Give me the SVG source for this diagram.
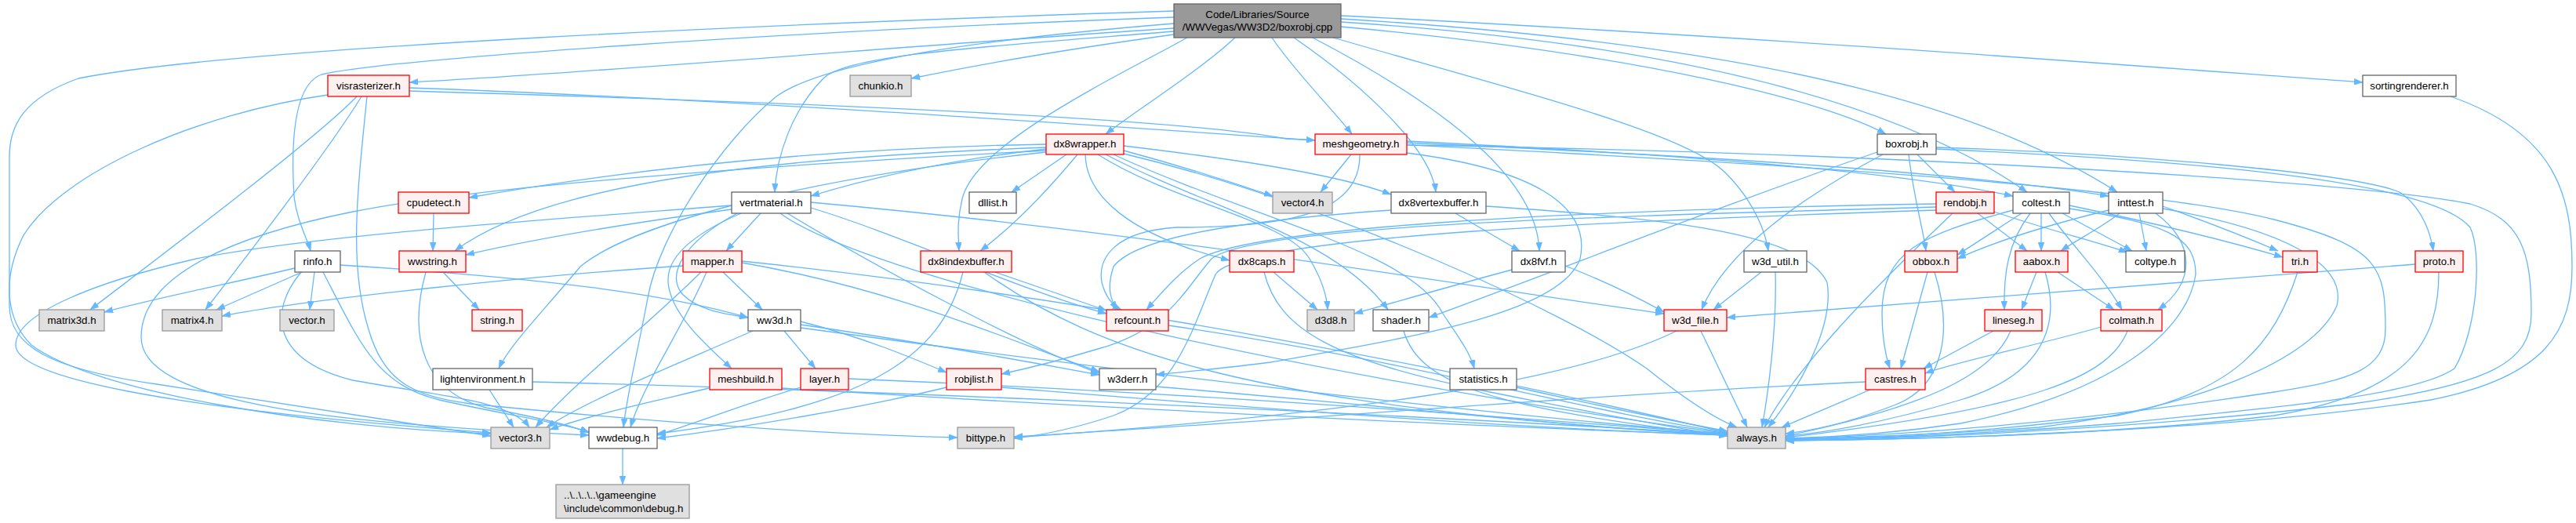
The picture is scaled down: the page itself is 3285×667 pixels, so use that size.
<svg xmlns="http://www.w3.org/2000/svg" width="3285" height="667" viewBox="0 0 3285 667">
<style>
rect{stroke-width:1.3}
.red rect{fill:#fff0f0;stroke:#ff0000}
.wht rect{fill:#ffffff;stroke:#666666}
.gry rect{fill:#e0e0e0;stroke:#999999}
.root rect{fill:#999999;stroke:#666666}
text{font-family:"Liberation Sans",Arial,sans-serif;font-size:13.3px;fill:#000;text-anchor:middle}
.lt{text-anchor:start}
#edges path{fill:none;stroke:#63b8ff;stroke-width:1.3;marker-end:url(#a)}
</style>
<defs>
<marker id="a" viewBox="0 0 11 8" refX="11" refY="4" markerWidth="11" markerHeight="8" markerUnits="userSpaceOnUse" orient="auto"><path d="M0,0 L11,4 L0,8 z" fill="#63b8ff" stroke="#63b8ff" stroke-width="0.5"/></marker>
</defs>
<rect width="3285" height="667" fill="#ffffff"/>
<g id="edges">
<path d="M1497,36 C1200,55 800,90 522,105"/>
<path d="M1497,44 C1380,60 1250,82 1162,100"/>
<path d="M1575,48 C1530,90 1450,140 1410,171"/>
<path d="M1622,48 C1650,90 1700,140 1724,171"/>
<path d="M1650,48 C1740,110 1825,190 1831,245"/>
<path d="M1674,48 C1850,140 1960,230 1963,320"/>
<path d="M1700,48 C1950,120 2150,170 2200,220 C2240,260 2252,300 2255,320"/>
<path d="M1710,34 C2100,70 2330,130 2405,171"/>
<path d="M1710,28 C2200,60 2450,150 2585,245"/>
<path d="M1710,24 C2300,60 2550,150 2700,245"/>
<path d="M1710,20 C2300,50 2800,90 3013,105"/>
<path d="M1514,48 C1420,100 1250,180 1228,250 C1220,280 1222,300 1223,320"/>
<path d="M1497,40 C1250,60 1080,70 1050,100 C1010,140 990,200 988,245"/>
<path d="M1497,22 C1000,40 500,75 410,95 C370,110 372,200 375,250 C378,280 392,305 396,320"/>
<path d="M1497,30 C1250,50 1050,80 990,123 C920,180 840,300 826,380 C815,440 800,500 795,545"/>
<path d="M1497,14 C1000,30 300,60 100,100 C30,125 12,160 12,200 L12,390 C12,440 60,470 200,490 C400,520 560,545 626,556"/>
<path d="M522,112 C900,125 1400,160 1677,179"/>
<path d="M522,116 C1000,130 1500,150 1640,177 C2100,200 2700,230 2900,280 C3035,315 3042,340 3042,420 C3042,470 3000,485 2900,500 C2600,545 2400,556 2277,560"/>
<path d="M455,123 C400,180 200,330 115,395"/>
<path d="M461,123 C420,190 320,320 262,395"/>
<path d="M468,123 C455,250 445,340 470,420 C490,490 530,505 600,515 C900,545 1100,555 1221,558"/>
<path d="M418,121 C250,145 80,220 30,300 C0,360 10,410 40,440 C120,500 400,545 626,553"/>
<path d="M1334,184 C1000,190 750,225 598,252"/>
<path d="M1334,188 C1000,200 700,230 580,320"/>
<path d="M1334,194 C1000,230 800,290 740,340 C690,400 650,440 636,470"/>
<path d="M1334,190 C1200,205 1100,230 1034,250"/>
<path d="M1360,197 L1290,245"/>
<path d="M1374,197 C1330,250 1290,290 1250,320"/>
<path d="M1433,192 C1500,210 1570,232 1623,250"/>
<path d="M1433,186 C1550,200 1700,220 1774,248"/>
<path d="M1384,197 C1385,250 1440,300 1568,332"/>
<path d="M1400,197 C1500,260 1640,280 1670,330 C1685,355 1692,375 1693,395"/>
<path d="M1410,197 C1550,270 1700,300 1770,395"/>
<path d="M1420,197 C1600,280 1800,320 1840,400 C1860,430 1875,450 1880,470"/>
<path d="M1433,196 C1700,260 2000,400 2100,470 C2150,510 2190,535 2215,545"/>
<path d="M1334,192 C900,215 600,240 450,270 C300,300 180,350 180,430 C180,510 400,540 751,555"/>
<path d="M1723,197 L1684,245"/>
<path d="M1794,195 C1950,215 2030,260 2015,330 C1990,400 1800,430 1620,462 C1560,470 1510,474 1474,478"/>
<path d="M1734,197 C1735,270 1650,290 1500,290 C1420,295 1400,330 1405,360 C1410,380 1420,390 1430,395"/>
<path d="M1794,180 C2100,195 2400,215 2567,250"/>
<path d="M1794,182 C2200,200 2500,220 2689,250"/>
<path d="M1794,185 C2400,195 3000,230 3150,260 C3215,280 3228,320 3228,400 C3228,460 3180,490 3000,515 C2700,550 2400,560 2277,562"/>
<path d="M2445,197 L2493,245"/>
<path d="M2434,197 C2440,250 2452,290 2456,320"/>
<path d="M2394,194 C2200,260 2000,340 1822,405"/>
<path d="M2401,197 C2300,250 2200,320 2170,395"/>
<path d="M2469,188 C2700,195 3000,220 3060,245 C3090,265 3100,300 3103,320"/>
<path d="M2469,190 C2800,205 3100,230 3150,290 C3165,320 3160,420 3130,470 C3080,505 2900,520 2700,540 C2500,556 2350,560 2277,560"/>
<path d="M2522,272 L2585,320"/>
<path d="M2543,270 C2600,290 2680,310 2713,322"/>
<path d="M2469,260 C2000,268 1600,290 1530,330 C1500,350 1480,375 1462,395"/>
<path d="M2469,264 C2100,275 1600,285 1545,330 C1510,370 1490,420 1400,445 C1350,460 1310,470 1277,477"/>
<path d="M2469,268 C2100,280 1580,300 1550,350 C1520,420 1500,500 1420,530 C1360,550 1320,556 1293,559"/>
<path d="M2490,272 C2440,320 2300,450 2250,545"/>
<path d="M2578,272 C2550,290 2520,310 2496,325"/>
<path d="M2603,272 L2603,320"/>
<path d="M2630,272 L2719,320"/>
<path d="M2639,262 C2750,285 2850,310 2911,328"/>
<path d="M2589,272 C2560,310 2555,350 2556,395"/>
<path d="M2613,272 C2640,310 2680,350 2706,395"/>
<path d="M2567,268 C2450,300 2400,320 2400,400 C2400,430 2405,455 2410,470"/>
<path d="M2639,266 C2760,285 2800,300 2800,350 C2790,420 2700,500 2500,540 C2400,555 2320,558 2277,559"/>
<path d="M2703,272 C2680,290 2650,305 2628,320"/>
<path d="M2689,268 C2620,285 2550,305 2496,330"/>
<path d="M2728,272 L2737,320"/>
<path d="M2758,263 C2820,285 2870,305 2905,320"/>
<path d="M2749,272 C2800,310 2800,360 2752,395"/>
<path d="M2758,266 C2950,300 2990,350 2980,390 C2950,460 2800,520 2600,545 C2450,556 2330,558 2277,561"/>
<path d="M3125,123 C3260,170 3280,250 3280,340 C3280,420 3250,480 3100,510 C2800,555 2400,561 2277,562"/>
<path d="M2930,347 C2900,440 2850,500 2700,530 C2500,555 2350,560 2277,561"/>
<path d="M3080,337 C2700,365 2400,390 2202,405"/>
<path d="M3110,347 C3110,430 3080,500 2900,530 C2700,555 2400,561 2277,562"/>
<path d="M2385,497 L2272,545"/>
<path d="M2379,487 C2000,505 1600,540 1293,557"/>
<path d="M2458,347 L2424,470"/>
<path d="M2467,347 C2490,420 2480,490 2420,515 C2370,535 2320,548 2277,553"/>
<path d="M2597,347 L2578,395"/>
<path d="M2624,347 L2696,395"/>
<path d="M2608,347 C2630,420 2600,480 2500,510 C2400,540 2320,553 2277,556"/>
<path d="M2542,422 L2453,470"/>
<path d="M2564,422 C2540,480 2450,520 2277,556"/>
<path d="M2679,417 C2600,440 2500,460 2455,476"/>
<path d="M2713,422 C2690,480 2600,520 2277,558"/>
<path d="M2169,422 L2228,545"/>
<path d="M2138,422 C2000,490 1700,530 1293,558"/>
<path d="M2246,347 L2185,395"/>
<path d="M2264,347 C2266,420 2255,500 2247,545"/>
<path d="M1928,344 C1850,365 1780,385 1727,400"/>
<path d="M1996,339 C2050,360 2090,380 2122,398"/>
<path d="M1856,272 L1938,320"/>
<path d="M1774,268 C1600,280 1450,300 1420,340 C1410,370 1418,385 1425,395"/>
<path d="M1895,263 C2150,280 2300,300 2330,360 C2340,420 2290,500 2255,545"/>
<path d="M1269,347 C1320,365 1370,382 1411,396"/>
<path d="M1228,347 C1200,460 1100,520 838,553"/>
<path d="M1255,347 C1400,450 1600,520 2203,555"/>
<path d="M1624,347 L1680,395"/>
<path d="M1612,347 C1630,420 1700,460 1900,500 C2050,530 2150,548 2203,556"/>
<path d="M933,267 C800,285 680,305 594,325"/>
<path d="M970,272 L926,320"/>
<path d="M1034,265 C1150,300 1300,370 1411,400"/>
<path d="M1004,272 C1100,330 1300,440 1402,476"/>
<path d="M995,272 C1100,350 1600,470 2203,553"/>
<path d="M933,262 C700,280 400,300 250,330 C120,360 20,400 20,440 C20,480 200,520 626,552"/>
<path d="M945,272 C880,300 850,330 852,360 C855,400 900,440 933,470"/>
<path d="M940,272 C870,310 850,350 870,375 C890,395 920,400 954,405"/>
<path d="M1034,258 C1500,300 1900,370 2122,400"/>
<path d="M922,347 L972,395"/>
<path d="M894,347 C820,420 730,490 683,545"/>
<path d="M901,347 C870,420 820,490 804,545"/>
<path d="M871,339 C700,350 400,380 283,403"/>
<path d="M946,335 C1150,370 1300,440 1402,474"/>
<path d="M946,333 C1400,380 1900,480 2203,552"/>
<path d="M553,272 L552,320"/>
<path d="M565,347 L611,395"/>
<path d="M543,347 C520,430 540,500 620,520 C700,535 735,545 751,552"/>
<path d="M376,342 C300,360 200,380 133,398"/>
<path d="M385,347 L276,395"/>
<path d="M401,347 L395,395"/>
<path d="M384,347 C340,400 350,460 450,485 C560,505 650,510 675,545"/>
<path d="M412,347 C460,440 480,490 560,510 C650,530 720,540 751,551"/>
<path d="M434,338 C700,355 850,375 954,405"/>
<path d="M624,497 L655,545"/>
<path d="M679,487 C1200,500 1800,530 2203,554"/>
<path d="M904,495 C820,515 750,530 701,548"/>
<path d="M997,495 C1400,520 1900,545 2203,555"/>
<path d="M1021,494 C950,515 900,535 838,555"/>
<path d="M1082,483 C1500,500 1900,530 2203,554"/>
<path d="M1000,422 L1040,470"/>
<path d="M960,422 C850,470 750,510 697,545"/>
<path d="M1021,414 C1200,440 1330,465 1402,478"/>
<path d="M1021,410 C1100,430 1160,455 1207,475"/>
<path d="M1021,418 C1400,470 1900,530 2203,553"/>
<path d="M1207,494 C1100,520 950,545 838,559"/>
<path d="M1277,494 C1600,520 1900,545 2203,555"/>
<path d="M1474,493 C1800,520 2000,545 2203,555"/>
<path d="M1490,415 C1800,460 2000,520 2203,552"/>
<path d="M1934,494 C2050,520 2150,540 2203,550"/>
<path d="M1790,422 C1810,490 1900,520 2203,556"/>
<path d="M794,572 L794,618"/>
</g>
<g id="n-root" class="root"><rect x="1497" y="5" width="213" height="43"/><text x="1603.5" y="23">Code/Libraries/Source</text><text x="1603.5" y="39">/WWVegas/WW3D2/boxrobj.cpp</text></g>
<g id="n-visrasterizer" class="red"><rect x="418" y="96" width="104" height="27"/><text x="470" y="114">visrasterizer.h</text></g>
<g id="n-chunkio" class="gry"><rect x="1084" y="96" width="78" height="27"/><text x="1123" y="114">chunkio.h</text></g>
<g id="n-sortingrenderer" class="wht"><rect x="3013" y="96" width="119" height="27"/><text x="3072.5" y="114">sortingrenderer.h</text></g>
<g id="n-dx8wrapper" class="red"><rect x="1334" y="171" width="99" height="26"/><text x="1383.5" y="188">dx8wrapper.h</text></g>
<g id="n-meshgeometry" class="red"><rect x="1677" y="171" width="117" height="26"/><text x="1735.5" y="188">meshgeometry.h</text></g>
<g id="n-boxrobj" class="wht"><rect x="2394" y="171" width="75" height="26"/><text x="2431.5" y="188">boxrobj.h</text></g>
<g id="n-cpudetect" class="red"><rect x="508" y="245" width="90" height="27"/><text x="553" y="263">cpudetect.h</text></g>
<g id="n-vertmaterial" class="wht"><rect x="933" y="245" width="101" height="27"/><text x="983.5" y="263">vertmaterial.h</text></g>
<g id="n-dllist" class="wht"><rect x="1236" y="245" width="60" height="27"/><text x="1266" y="263">dllist.h</text></g>
<g id="n-vector4" class="gry"><rect x="1623" y="245" width="76" height="27"/><text x="1661" y="263">vector4.h</text></g>
<g id="n-dx8vertexbuffer" class="wht"><rect x="1774" y="245" width="121" height="27"/><text x="1834.5" y="263">dx8vertexbuffer.h</text></g>
<g id="n-rendobj" class="red"><rect x="2469" y="245" width="74" height="27"/><text x="2506" y="263">rendobj.h</text></g>
<g id="n-coltest" class="wht"><rect x="2567" y="245" width="72" height="27"/><text x="2603" y="263">coltest.h</text></g>
<g id="n-inttest" class="wht"><rect x="2689" y="245" width="69" height="27"/><text x="2723.5" y="263">inttest.h</text></g>
<g id="n-rinfo" class="wht"><rect x="376" y="320" width="58" height="27"/><text x="405" y="338">rinfo.h</text></g>
<g id="n-wwstring" class="red"><rect x="509" y="320" width="85" height="27"/><text x="551.5" y="338">wwstring.h</text></g>
<g id="n-mapper" class="red"><rect x="871" y="320" width="75" height="27"/><text x="908.5" y="338">mapper.h</text></g>
<g id="n-dx8indexbuffer" class="red"><rect x="1174" y="320" width="116" height="27"/><text x="1232" y="338">dx8indexbuffer.h</text></g>
<g id="n-dx8caps" class="red"><rect x="1568" y="320" width="82" height="27"/><text x="1609" y="338">dx8caps.h</text></g>
<g id="n-dx8fvf" class="wht"><rect x="1928" y="320" width="68" height="27"/><text x="1962" y="338">dx8fvf.h</text></g>
<g id="n-w3d_util" class="wht"><rect x="2224" y="320" width="80" height="27"/><text x="2264" y="338">w3d_util.h</text></g>
<g id="n-obbox" class="red"><rect x="2429" y="320" width="67" height="27"/><text x="2462.5" y="338">obbox.h</text></g>
<g id="n-aabox" class="red"><rect x="2570" y="320" width="67" height="27"/><text x="2603.5" y="338">aabox.h</text></g>
<g id="n-coltype" class="wht"><rect x="2711" y="320" width="75" height="27"/><text x="2748.5" y="338">coltype.h</text></g>
<g id="n-tri" class="red"><rect x="2911" y="320" width="44" height="27"/><text x="2933" y="338">tri.h</text></g>
<g id="n-proto" class="red"><rect x="3080" y="320" width="61" height="27"/><text x="3110.5" y="338">proto.h</text></g>
<g id="n-matrix3d" class="gry"><rect x="50" y="395" width="83" height="27"/><text x="91.5" y="413">matrix3d.h</text></g>
<g id="n-matrix4" class="gry"><rect x="207" y="395" width="76" height="27"/><text x="245" y="413">matrix4.h</text></g>
<g id="n-vector" class="gry"><rect x="357" y="395" width="69" height="27"/><text x="391.5" y="413">vector.h</text></g>
<g id="n-string" class="red"><rect x="602" y="395" width="64" height="27"/><text x="634" y="413">string.h</text></g>
<g id="n-ww3d" class="wht"><rect x="954" y="395" width="67" height="27"/><text x="987.5" y="413">ww3d.h</text></g>
<g id="n-refcount" class="red"><rect x="1411" y="395" width="79" height="27"/><text x="1450.5" y="413">refcount.h</text></g>
<g id="n-d3d8" class="gry"><rect x="1667" y="395" width="60" height="27"/><text x="1697" y="413">d3d8.h</text></g>
<g id="n-shader" class="wht"><rect x="1751" y="395" width="71" height="27"/><text x="1786.5" y="413">shader.h</text></g>
<g id="n-w3d_file" class="red"><rect x="2122" y="395" width="80" height="27"/><text x="2162" y="413">w3d_file.h</text></g>
<g id="n-lineseg" class="red"><rect x="2531" y="395" width="73" height="27"/><text x="2567.5" y="413">lineseg.h</text></g>
<g id="n-colmath" class="red"><rect x="2679" y="395" width="78" height="27"/><text x="2718" y="413">colmath.h</text></g>
<g id="n-lightenvironment" class="wht"><rect x="552" y="470" width="127" height="27"/><text x="615.5" y="488">lightenvironment.h</text></g>
<g id="n-meshbuild" class="red"><rect x="905" y="470" width="92" height="27"/><text x="951" y="488">meshbuild.h</text></g>
<g id="n-layer" class="red"><rect x="1021" y="470" width="61" height="27"/><text x="1051.5" y="488">layer.h</text></g>
<g id="n-robjlist" class="red"><rect x="1207" y="470" width="70" height="27"/><text x="1242" y="488">robjlist.h</text></g>
<g id="n-w3derr" class="wht"><rect x="1402" y="470" width="72" height="27"/><text x="1438" y="488">w3derr.h</text></g>
<g id="n-statistics" class="wht"><rect x="1849" y="470" width="85" height="27"/><text x="1891.5" y="488">statistics.h</text></g>
<g id="n-castres" class="red"><rect x="2379" y="470" width="76" height="27"/><text x="2417" y="488">castres.h</text></g>
<g id="n-vector3" class="gry"><rect x="626" y="545" width="75" height="27"/><text x="663.5" y="563">vector3.h</text></g>
<g id="n-wwdebug" class="wht"><rect x="751" y="545" width="87" height="27"/><text x="794.5" y="563">wwdebug.h</text></g>
<g id="n-bittype" class="gry"><rect x="1221" y="545" width="72" height="27"/><text x="1257" y="563">bittype.h</text></g>
<g id="n-always" class="gry"><rect x="2203" y="545" width="74" height="27"/><text x="2240" y="563">always.h</text></g>
<g id="n-debug" class="gry"><rect x="709" y="618" width="170" height="43"/><text class="lt" x="719" y="636">..\..\..\..\gameengine</text><text class="lt" x="719" y="653">\include\common\debug.h</text></g>
</svg>
